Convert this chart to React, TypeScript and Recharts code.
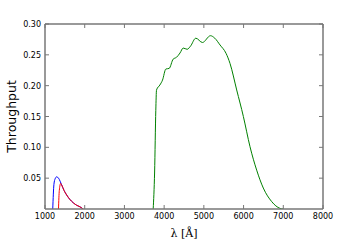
import React from 'react';
import { LineChart, Line, XAxis, YAxis } from 'recharts';

// throughput curves (wavelength in Angstrom)
const blueWave = [1195, 1225, 1255, 1295, 1340, 1420, 1480, 1546, 1620, 1713, 1800, 1881, 1964];
const blueVal = [0, 0.04, 0.049, 0.0522, 0.05, 0.039, 0.03, 0.0227, 0.016, 0.01, 0.006, 0.0035, 0];

const redWave = [1340, 1360, 1395, 1420, 1480, 1546, 1620, 1713, 1800, 1881, 1964];
const redVal = [0, 0.03, 0.0415, 0.039, 0.03, 0.0227, 0.016, 0.01, 0.006, 0.0035, 0];

const greenWave = [
  3724, 3760, 3790, 3808, 3892, 3959, 4043, 4127, 4227, 4311, 4400, 4479, 4580, 4663, 4797,
  4965, 5166, 5275, 5407, 5558, 5659, 5827, 5995, 6162, 6330, 6497, 6708, 6918, 7000,
];
const greenVal = [
  0, 0.06, 0.16, 0.193, 0.201, 0.209, 0.227, 0.228, 0.243, 0.246, 0.253, 0.261, 0.259, 0.264, 0.277,
  0.27, 0.281, 0.277, 0.266, 0.2525, 0.236, 0.193, 0.15, 0.101, 0.063, 0.034, 0.012, 0.001, 0,
];

const xTicks = [1000, 2000, 3000, 4000, 5000, 6000, 7000, 8000];
const yTicks = [0.05, 0.1, 0.15, 0.2, 0.25, 0.3];

const toRows = (w: number[], v: number[]) => w.map((x, i) => ({ x, y: v[i] }));

const frame = '#777777';
const tickFont = 'DejaVu Sans, sans-serif';

// tick marks point into the plot, like matplotlib's classic style
function BottomTick(props: any) {
  const { x, y, payload } = props;
  return (
    <g>
      <line x1={x} y1={y} x2={x} y2={y - 4} stroke={frame} strokeWidth={1} />
      <text x={x} y={y + 9.5} textAnchor="middle" fontSize={8} fontFamily={tickFont} fill="#000">
        {payload.value}
      </text>
    </g>
  );
}

function TopTick(props: any) {
  const { x, y } = props;
  return <line x1={x} y1={y} x2={x} y2={y + 4} stroke={frame} strokeWidth={1} />;
}

function LeftTick(props: any) {
  const { x, y, payload } = props;
  return (
    <g>
      <line x1={x} y1={y} x2={x + 4} y2={y} stroke={frame} strokeWidth={1} />
      <text x={x - 4} y={y + 3} textAnchor="end" fontSize={8} fontFamily={tickFont} fill="#000">
        {payload.value.toFixed(2)}
      </text>
    </g>
  );
}

function RightTick(props: any) {
  const { x, y } = props;
  return <line x1={x} y1={y} x2={x - 4} y2={y} stroke={frame} strokeWidth={1} />;
}

export default function App() {
  return (
    <div style={{ position: 'absolute', left: 0, top: 0, width: 360, height: 240, background: '#fff' }}>
      <LineChart width={360} height={240} margin={{ top: 23, right: 36, bottom: 11, left: 0 }}>
        <XAxis
          xAxisId="b"
          dataKey="x"
          type="number"
          domain={[1000, 8000]}
          ticks={xTicks}
          allowDataOverflow
          height={20}
          tickSize={0}
          tickMargin={0}
          tickLine={false}
          axisLine={{ stroke: frame, strokeWidth: 1.5 }}
          tick={<BottomTick />}
          interval={0}
          label={{
            value: 'λ [Å]',
            position: 'bottom',
            offset: 0,
            fontSize: 11,
            fontFamily: 'DejaVu Serif, serif',
            fill: '#000',
          }}
        />
        <XAxis
          xAxisId="t"
          orientation="top"
          dataKey="x"
          type="number"
          domain={[1000, 8000]}
          ticks={xTicks}
          allowDataOverflow
          height={1}
          tickSize={0}
          tickMargin={0}
          tickLine={false}
          axisLine={{ stroke: frame, strokeWidth: 1.5 }}
          tick={<TopTick />}
          interval={0}
        />
        <YAxis
          yAxisId="l"
          type="number"
          domain={[0, 0.3]}
          ticks={yTicks}
          allowDataOverflow
          width={45}
          tickSize={0}
          tickMargin={0}
          tickLine={false}
          axisLine={{ stroke: frame, strokeWidth: 1.5 }}
          tick={<LeftTick />}
          interval={0}
          label={{
            value: 'Throughput',
            angle: -90,
            position: 'insideLeft',
            offset: 12,
            fontSize: 12.5,
            fontFamily: tickFont,
            fill: '#000',
            style: { textAnchor: 'middle' },
          }}
        />
        <YAxis
          yAxisId="r"
          orientation="right"
          type="number"
          domain={[0, 0.3]}
          ticks={yTicks}
          allowDataOverflow
          width={1}
          tickSize={0}
          tickMargin={0}
          tickLine={false}
          axisLine={{ stroke: frame, strokeWidth: 1.5 }}
          tick={<RightTick />}
          interval={0}
        />
        <Line
          xAxisId="b"
          yAxisId="l"
          data={toRows(blueWave, blueVal)}
          dataKey="y"
          type="monotone"
          stroke="#0000ff"
          strokeWidth={1}
          dot={false}
          isAnimationActive={false}
        />
        <Line
          xAxisId="b"
          yAxisId="l"
          data={toRows(redWave, redVal)}
          dataKey="y"
          type="monotone"
          stroke="#ff0000"
          strokeWidth={1}
          dot={false}
          isAnimationActive={false}
        />
        <Line
          xAxisId="b"
          yAxisId="l"
          data={toRows(greenWave, greenVal)}
          dataKey="y"
          type="monotone"
          stroke="#008000"
          strokeWidth={1}
          dot={false}
          isAnimationActive={false}
        />
      </LineChart>
    </div>
  );
}
